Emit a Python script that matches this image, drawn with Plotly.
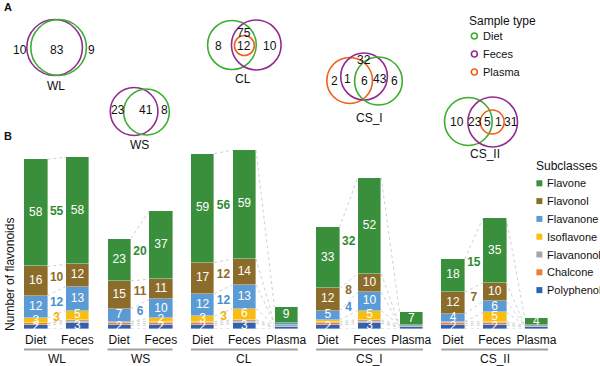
import plotly.graph_objects as go

W, H = 600, 366
FONT = "Liberation Sans, Arial, sans-serif"

# ---------------- data ----------------
groups = ["WL", "WS", "CL", "CS_I", "CS_II"]
bar_groups = ["WL", "WL", "WS", "WS", "CL", "CL", "CL",
              "CS_I", "CS_I", "CS_I", "CS_II", "CS_II", "CS_II"]
bar_samples = ["Diet", "Feces", "Diet", "Feces", "Diet", "Feces", "Plasma",
               "Diet", "Feces", "Plasma", "Diet", "Feces", "Plasma"]

# stacked bottom -> top
subclasses = ["Polyphenol", "Chalcone", "Flavanonol", "Isoflavone",
              "Flavanone", "Flavonol", "Flavone"]
polyphenol = [2, 3, 2, 2, 2, 3, 1, 2, 3, 1, 2, 2, 1]
chalcone   = [1, 1, 1, 1, 1, 1, 0, 1, 1, 0, 1, 1, 0]
flavanonol = [0, 1, 1, 1, 1, 1, 1, 1, 1, 1, 1, 1, 1]
isoflavone = [3, 5, 0, 2, 3, 6, 0, 1, 5, 0, 0, 5, 0]
flavanone  = [12, 13, 7, 10, 12, 13, 1, 5, 10, 0, 4, 6, 0]
flavonol   = [16, 12, 15, 11, 17, 14, 0, 12, 10, 0, 12, 10, 0]
flavone    = [58, 58, 23, 37, 59, 59, 9, 33, 52, 7, 18, 35, 4]

# flavonoids shared by Diet and Feces, per group
shared_flavone    = [55, 20, 56, 32, 15]
shared_flavonol   = [10, 11, 12, 8, 7]
shared_flavanone  = [12, 6, 12, 4, None]
shared_isoflavone = [3, None, 3, None, None]

# Venn region counts
venn_wl = [10, 83, 9]
venn_ws = [23, 41, 8]
venn_cl = [8, 75, 12, 10]
venn_cs1 = [2, 1, 6, 43, 6, 32]
venn_cs2 = [10, 23, 5, 1, 31]

sample_types = ["Diet", "Feces", "Plasma"]

# ---------------- styles ----------------
colors = {
    "Flavone": "#3a8f3c",
    "Flavonol": "#8c6c2a",
    "Flavanone": "#5b9bd5",
    "Isoflavone": "#f8bd10",
    "Flavanonol": "#a6a6a6",
    "Chalcone": "#ed7d31",
    "Polyphenol": "#2f62b4",
}
label_colors = {"Flavone": "#2f8a2f", "Flavonol": "#8c6c2a",
                "Flavanone": "#4a8fd0", "Isoflavone": "#f5b000"}
venn_colors = {"Diet": "#3cae2e", "Feces": "#922c91", "Plasma": "#f06018"}

values = {
    "Polyphenol": polyphenol, "Chalcone": chalcone, "Flavanonol": flavanonol,
    "Isoflavone": isoflavone, "Flavanone": flavanone, "Flavonol": flavonol,
    "Flavone": flavone,
}
shared = {"Flavone": shared_flavone, "Flavonol": shared_flavonol,
          "Flavanone": shared_flavanone, "Isoflavone": shared_isoflavone}

BW = 0.56
xs = list(range(len(bar_samples)))


def px(x):
    return x / W


def py(y):
    return 1 - y / H


fig = go.Figure()

# cumulative boundaries
cum = [[0] for _ in xs]
for s in subclasses:
    for i in xs:
        cum[i].append(cum[i][-1] + values[s][i])

# dotted connector lines between adjacent bars of a group
lx, ly = [], []
for i in xs[:-1]:
    if bar_groups[i] != bar_groups[i + 1]:
        continue
    for k in range(len(subclasses) + 1):
        lx += [i + BW / 2, i + 1 - BW / 2, None]
        ly += [cum[i][k], cum[i + 1][k], None]
fig.add_trace(go.Scatter(x=lx, y=ly, mode="lines", hoverinfo="skip",
                         line=dict(color="#d0d0d0", width=1, dash="dot"),
                         showlegend=False))

# bars
for s in subclasses:
    fig.add_trace(go.Bar(x=xs, y=values[s], name=s, width=BW,
                         marker=dict(color=colors[s],
                                     line=dict(color="rgba(255,255,255,0.55)", width=0.7)),
                         showlegend=False))

# labels inside bars
for si, s in enumerate(subclasses):
    tx, ty, tt = [], [], []
    for i in xs:
        v = values[s][i]
        if v >= 2:
            tx.append(i)
            ty.append(cum[i][si] + v / 2)
            tt.append(str(v))
    fig.add_trace(go.Scatter(x=tx, y=ty, text=tt, mode="text", cliponaxis=False,
                             textfont=dict(color="white", size=12, family=FONT),
                             hoverinfo="skip", showlegend=False))

# shared labels between Diet and Feces
for s, arr in shared.items():
    si = subclasses.index(s)
    tx, ty, tt = [], [], []
    for g, v in zip(groups, arr):
        if v is None:
            continue
        i = bar_groups.index(g)
        m1 = cum[i][si] + values[s][i] / 2
        m2 = cum[i + 1][si] + values[s][i + 1] / 2
        tx.append(i + 0.5)
        ty.append((m1 + m2) / 2)
        tt.append("<b>%d</b>" % v)
    fig.add_trace(go.Scatter(x=tx, y=ty, text=tt, mode="text", cliponaxis=False,
                             textfont=dict(color=label_colors[s], size=12, family=FONT),
                             hoverinfo="skip", showlegend=False))

shapes = []
annotations = []

# group lines and names under the axis
for g in groups:
    idx = [i for i in xs if bar_groups[i] == g]
    shapes.append(dict(type="line", xref="x", yref="paper",
                       x0=idx[0] - BW / 2, x1=idx[-1] + BW / 2,
                       y0=py(349.5), y1=py(349.5),
                       line=dict(color="#a0a0a0", width=2)))
    annotations.append(dict(xref="x", yref="paper", x=(idx[0] + idx[-1]) / 2,
                            y=py(358.5), text=g, showarrow=False,
                            font=dict(size=12, color="#111", family=FONT),
                            xanchor="center", yanchor="middle"))


# ---------------- Venn diagrams (panel A) ----------------
def circle(cx, cy, r, col):
    shapes.append(dict(type="circle", xref="paper", yref="paper",
                       x0=px(cx - r), x1=px(cx + r), y0=py(cy + r), y1=py(cy - r),
                       line=dict(color=col, width=1.6), fillcolor="rgba(0,0,0,0)"))


def txt(x, y, t, size=12, color="#111", anchor="center", bold=False):
    annotations.append(dict(xref="paper", yref="paper", x=px(x), y=py(y),
                            text=("<b>%s</b>" % t) if bold else str(t),
                            showarrow=False, xanchor=anchor, yanchor="middle",
                            font=dict(size=size, color=color, family=FONT)))


venn_layout = [
    ("WL", (56, 86), [("Feces", 55, 47.5, 28), ("Diet", 59, 47.5, 28)],
     venn_wl, [(20, 50), (57, 50), (92, 50)]),
    ("WS", (140, 145), [("Feces", 135, 111.5, 24), ("Diet", 147.5, 112, 23)],
     venn_ws, [(119, 110), (147, 110), (166, 110)]),
    ("CL", (245, 79), [("Diet", 233.5, 45, 24.5), ("Feces", 258, 45, 25),
                       ("Plasma", 246, 45.5, 10)],
     venn_cl, [(220, 46), (246, 33), (246, 46), (272, 46)]),
    ("CS_I", (372, 118), [("Plasma", 352, 80.5, 23), ("Feces", 366.5, 76.5, 23.5),
                          ("Diet", 381, 81, 24)],
     venn_cs1, [(337, 81), (350, 79), (367, 81), (383, 79), (397, 81), (366, 60)]),
    ("CS_II", (488, 154), [("Diet", 471.5, 121.5, 24), ("Feces", 496, 122, 25),
                           ("Plasma", 495.5, 122, 12)],
     venn_cs2, [(460, 122), (478, 122), (491, 122), (502, 122), (514, 122)]),
]
for name, npos, circs, counts, pos in venn_layout:
    for st, cx, cy, r in circs:
        circle(cx, cy, r, venn_colors[st])
    for c, (x, y) in zip(counts, pos):
        txt(x, y, c)
    txt(npos[0], npos[1], name)

# Sample type legend
txt(470, 21, "Sample type", size=12, anchor="left")
for k, st in enumerate(sample_types):
    yy = 36 + 18 * k
    circle(477.5, yy, 3, venn_colors[st])
    txt(484, yy, st, size=11, anchor="left")

# Subclasses legend
txt(538, 166, "Subclasses", size=12, anchor="left")
for k, s in enumerate(reversed(subclasses)):
    yy = 183.3 + 17.8 * k
    shapes.append(dict(type="rect", xref="paper", yref="paper",
                       x0=px(540), x1=px(546), y0=py(yy + 3), y1=py(yy - 3),
                       fillcolor=colors[s], line=dict(width=0)))
    txt(549, yy, s, size=11, anchor="left")

# panel letters and y title
txt(2, 7, "A", size=11, anchor="left", bold=True)
txt(2, 136, "B", size=11, anchor="left", bold=True)
annotations.append(dict(xref="paper", yref="paper", x=px(10), y=py(274),
                        text="Number of flavonoids", textangle=-90, showarrow=False,
                        xanchor="center", yanchor="middle",
                        font=dict(size=12, color="#111", family=FONT)))

fig.update_layout(
    width=W, height=H, margin=dict(l=0, r=0, t=0, b=0),
    paper_bgcolor="white", plot_bgcolor="white",
    barmode="stack", bargap=0,
    font=dict(family=FONT, color="#111"),
    shapes=shapes, annotations=annotations,
    xaxis=dict(domain=[px(20), px(556)], range=[-0.38, 12.38],
               tickvals=xs, ticktext=bar_samples, showgrid=False, zeroline=False,
               showline=False, ticks="", tickfont=dict(size=12, color="#111"),
               ticklabelstandoff=2),
    yaxis=dict(domain=[py(329), py(140)], range=[0, 102.4], showgrid=False,
               zeroline=False, showticklabels=False, showline=False),
)

fig.write_html("out.html", config={"displayModeBar": False},
               post_script="document.body.style.margin='0';"
                           "document.body.style.overflow='hidden';")
